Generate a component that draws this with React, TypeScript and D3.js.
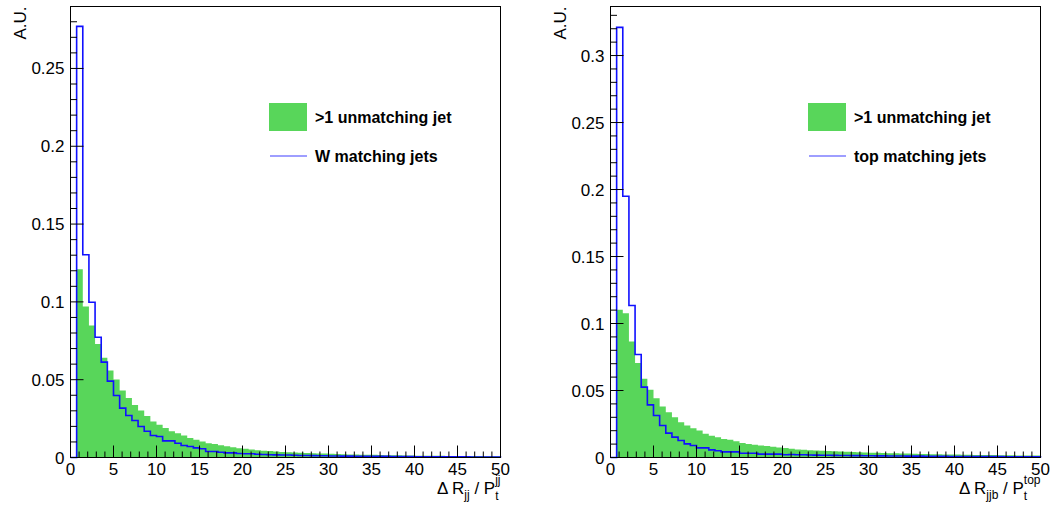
import React from "react";
import * as d3 from "d3";

const NBINS = 70;
const XMIN = 0;
const XMAX = 50;

// Left panel: W candidates
const leftGreen = [
  0, 0.121, 0.097, 0.0848, 0.073, 0.0641, 0.0559, 0.0501, 0.0431, 0.0383, 0.0338, 0.0302, 0.0266,
  0.0231, 0.021, 0.0189, 0.0169, 0.0156, 0.0141, 0.0126, 0.0114, 0.0103, 0.0092, 0.0086, 0.0079,
  0.0073, 0.0066, 0.006, 0.0056, 0.0051, 0.0047, 0.0043, 0.0041,
  0.0038, 0.0036, 0.0034, 0.0032, 0.003, 0.0029, 0.0027, 0.0026, 0.0025, 0.0024, 0.0022, 0.0021,
  0.002, 0.0019, 0.0018, 0.0018, 0.0017, 0.0016, 0.0015, 0.0015, 0.0014, 0.0013, 0.0013, 0.0012,
  0.0012, 0.0011, 0.0011, 0.0011, 0.001, 0.001, 0.001, 0.0009, 0.0009, 0.0009, 0.0008, 0.0008, 0.0008,
];
const leftBlue = [
  0, 0.277, 0.1303, 0.0998, 0.0773, 0.0613, 0.0491, 0.0398, 0.0317, 0.027, 0.0238, 0.0199, 0.0169,
  0.0141, 0.0135, 0.0107, 0.0107, 0.0092, 0.0077, 0.0071, 0.0062, 0.0056, 0.0039, 0.0039, 0.0034,
  0.003, 0.003, 0.0026, 0.0024, 0.0024, 0.0021, 0.0019, 0.0018,
  0.0017, 0.0016, 0.0016, 0.0014, 0.0013, 0.0013, 0.0012, 0.0011, 0.0011, 0.001, 0.001, 0.0009,
  0.0009, 0.0008, 0.0008, 0.0008, 0.0007, 0.0007, 0.0007, 0.0006, 0.0006, 0.0006, 0.0006, 0.0005,
  0.0005, 0.0005, 0.0005, 0.0004, 0.0004, 0.0004, 0.0004, 0.0004, 0.0003, 0.0003, 0.0003, 0.0003, 0.0003,
];

// Right panel: top candidates
const rightGreen = [
  0, 0.1102, 0.1077, 0.0866, 0.0706, 0.0587, 0.0505, 0.0443, 0.0381, 0.0338, 0.0301, 0.0264, 0.0239,
  0.0219, 0.0201, 0.0177, 0.0162, 0.0152, 0.0139, 0.0132, 0.0122, 0.0109, 0.01, 0.0095, 0.009,
  0.0085, 0.008, 0.0075, 0.007, 0.0065, 0.006, 0.0057, 0.0055,
  0.0053, 0.0051, 0.0049, 0.0047, 0.0045, 0.0043, 0.0041, 0.004, 0.0038, 0.0036, 0.0035, 0.0034,
  0.0032, 0.0031, 0.003, 0.0029, 0.0028, 0.0027, 0.0026, 0.0025, 0.0024, 0.0023, 0.0022, 0.0022,
  0.0021, 0.002, 0.0019, 0.0019, 0.0018, 0.0018, 0.0017, 0.0016, 0.0016, 0.0015, 0.0015, 0.0014, 0.0014,
];
const rightBlue = [
  0, 0.321, 0.195, 0.1134, 0.0769, 0.0525, 0.0393, 0.0313, 0.0239, 0.0182, 0.0152, 0.0127, 0.0102,
  0.009, 0.0072, 0.0072, 0.0057, 0.005, 0.0042, 0.0042, 0.0042, 0.0032, 0.0032, 0.0032, 0.0025,
  0.0025, 0.0025, 0.0025, 0.002, 0.0022, 0.002, 0.002, 0.0019,
  0.0018, 0.0017, 0.0017, 0.0016, 0.0015, 0.0015, 0.0014, 0.0014, 0.0013, 0.0013, 0.0012, 0.0012,
  0.0011, 0.0011, 0.0011, 0.001, 0.001, 0.001, 0.0009, 0.0009, 0.0009, 0.0009, 0.0008, 0.0008,
  0.0008, 0.0008, 0.0007, 0.0007, 0.0007, 0.0007, 0.0007, 0.0006, 0.0006, 0.0006, 0.0006, 0.0006, 0.0006,
];

const xTickLabels = ["0", "5", "10", "15", "20", "25", "30", "35", "40", "45", "50"];
const leftYTickLabels = ["0", "0.05", "0.1", "0.15", "0.2", "0.25"];
const rightYTickLabels = ["0", "0.05", "0.1", "0.15", "0.2", "0.25", "0.3"];

const legendFill = ">1 unmatching jet";
const leftLegendLine = "W matching jets";
const rightLegendLine = "top matching jets";

const FONT = "'Liberation Sans', Arial, Helvetica, sans-serif";
const GREEN = "#58d65a";
const BLUE = "#1010ff";

type PanelProps = {
  x0: number;
  x1: number;
  top: number;
  bottom: number;
  ymax: number;
  yLabels: string[];
  green: number[];
  blue: number[];
  lineLabel: string;
  legendX: number;
  titleSub: string;
  titleSup: string;
  yTitleX: number;
};

function Panel(p: PanelProps) {
  const x = d3.scaleLinear().domain([XMIN, XMAX]).range([p.x0, p.x1]);
  const y = d3.scaleLinear().domain([0, p.ymax]).range([p.bottom, p.top]);
  const bw = (XMAX - XMIN) / NBINS;

  const gPts: [number, number][] = p.green.map((v, i) => [XMIN + i * bw, v]);
  gPts.push([XMAX, p.green[NBINS - 1]]);
  const area = d3
    .area<[number, number]>()
    .x((d) => x(d[0]))
    .y0(y(0))
    .y1((d) => y(d[1]))
    .curve(d3.curveStepAfter);

  const bPts: [number, number][] = p.blue.map((v, i) => [XMIN + i * bw, v]);
  bPts.push([XMAX, p.blue[NBINS - 1]]);
  bPts.push([XMAX, 0]);
  const line = d3
    .line<[number, number]>()
    .x((d) => x(d[0]))
    .y((d) => y(d[1]))
    .curve(d3.curveStepAfter);

  const xMajor = d3.range(0, 51, 5);
  const xMinor = d3.range(0, 51, 1).filter((v) => v % 5 !== 0);
  const yMajorVals = p.yLabels.map((_, i) => i * 0.05);
  const yMinor: number[] = [];
  for (let k = 1; k * 0.01 <= p.ymax + 1e-9; k++) if (k % 5 !== 0) yMinor.push(k * 0.01);

  return (
    <g fontFamily={FONT}>
      <path d={area(gPts) || ""} fill={GREEN} stroke="none" />
      <path d={line(bPts) || ""} fill="none" stroke={BLUE} strokeWidth={1.6} />
      {/* frame */}
      <rect x={p.x0} y={p.top} width={p.x1 - p.x0} height={p.bottom - p.top} fill="none" stroke="#000" strokeWidth={1} />
      {/* y ticks */}
      {yMajorVals.map((v, i) => (
        <line key={"ym" + i} x1={p.x0} x2={p.x0 + 13} y1={y(v)} y2={y(v)} stroke="#000" strokeWidth={1} />
      ))}
      {yMinor.map((v, i) => (
        <line key={"yn" + i} x1={p.x0} x2={p.x0 + 6.5} y1={y(v)} y2={y(v)} stroke="#000" strokeWidth={1} />
      ))}
      {p.yLabels.map((t, i) => (
        <text key={"yl" + i} x={p.x0 - 6} y={y(yMajorVals[i]) + 6} textAnchor="end" fontSize={17}>
          {t}
        </text>
      ))}
      {/* x ticks */}
      {xMajor.map((v, i) => (
        <line key={"xm" + i} x1={x(v)} x2={x(v)} y1={p.bottom} y2={p.bottom - 12} stroke="#000" strokeWidth={1} />
      ))}
      {xMinor.map((v, i) => (
        <line key={"xn" + i} x1={x(v)} x2={x(v)} y1={p.bottom} y2={p.bottom - 6} stroke="#000" strokeWidth={1} />
      ))}
      {xTickLabels.map((t, i) => (
        <text key={"xl" + i} x={x(xMajor[i])} y={p.bottom + 17} textAnchor="middle" fontSize={17}>
          {t}
        </text>
      ))}
      {/* axis titles */}
      <text transform={`translate(${p.yTitleX},${p.top}) rotate(-90)`} textAnchor="end" fontSize={17}>
        A.U.
      </text>
      <text x={p.x1} y={494} textAnchor="end" fontSize={17}>
        {"Δ R"}
        <tspan fontSize={12} dy={5}>{p.titleSub}</tspan>
        <tspan dy={-5}>{" / P"}</tspan>
        <tspan fontSize={12} dy={6}>t</tspan>
        <tspan fontSize={12} dx={-3.4} dy={-16}>{p.titleSup}</tspan>
      </text>
      {/* legend */}
      <rect x={p.legendX} y={103} width={38} height={28} fill={GREEN} />
      <text x={p.legendX + 46} y={123} fontSize={16} fontWeight="bold">
        {legendFill}
      </text>
      <line x1={p.legendX + 1} x2={p.legendX + 38} y1={156} y2={156} stroke={BLUE} strokeWidth={1.2} opacity={0.8} />
      <text x={p.legendX + 46} y={162} fontSize={16} fontWeight="bold">
        {p.lineLabel}
      </text>
    </g>
  );
}

export default function App() {
  return (
    <svg
      width={1054}
      height={509}
      style={{ position: "absolute", left: 0, top: 0, background: "#fff" }}
    >
      <rect x={0} y={0} width={1054} height={509} fill="#fff" />
      <Panel
        x0={70.5}
        x1={500.5}
        top={6.5}
        bottom={457.5}
        ymax={0.2898}
        yLabels={leftYTickLabels}
        green={leftGreen}
        blue={leftBlue}
        lineLabel={leftLegendLine}
        legendX={269}
        titleSub="jj"
        titleSup="jj"
        yTitleX={26}
      />
      <Panel
        x0={610.5}
        x1={1040.5}
        top={6.5}
        bottom={457.5}
        ymax={0.3366}
        yLabels={rightYTickLabels}
        green={rightGreen}
        blue={rightBlue}
        lineLabel={rightLegendLine}
        legendX={808}
        titleSub="jjb"
        titleSup="top"
        yTitleX={566}
      />
    </svg>
  );
}
